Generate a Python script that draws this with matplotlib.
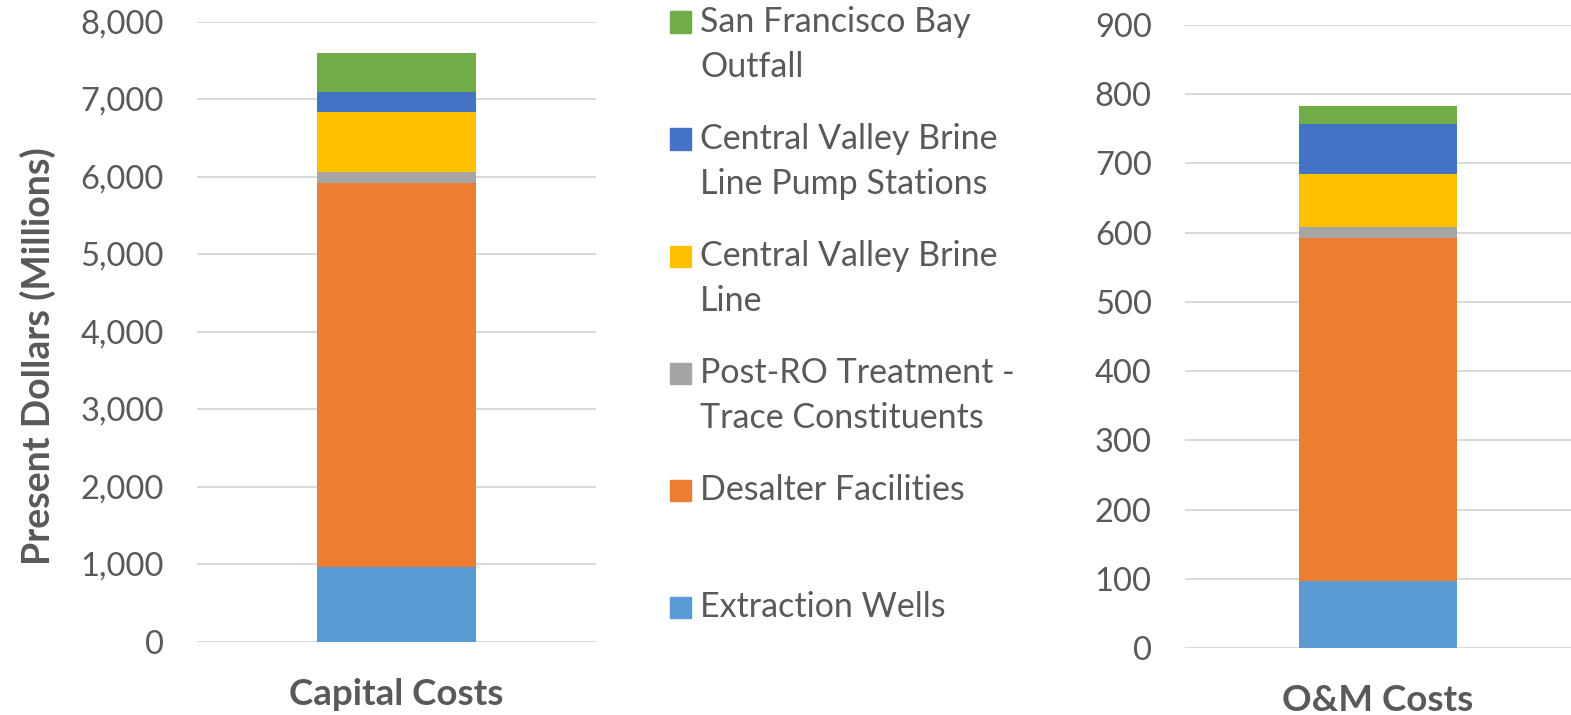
import matplotlib
matplotlib.use("Agg")
import matplotlib.pyplot as plt
from matplotlib.patches import Rectangle

# stacked components, bottom to top
components = [
    "Extraction Wells",
    "Desalter Facilities",
    "Post-RO Treatment -\nTrace Constituents",
    "Central Valley Brine\nLine",
    "Central Valley Brine\nLine Pump Stations",
    "San Francisco Bay\nOutfall",
]
colors = ["#5B9BD5", "#ED7D31", "#A5A5A5", "#FFC000", "#4472C4", "#70AD47"]

capital_costs = [960, 4955, 142, 774, 258, 504]
om_costs = [97, 496, 15, 77, 72, 26]

capital_ticks = [0, 1000, 2000, 3000, 4000, 5000, 6000, 7000, 8000]
om_ticks = [0, 100, 200, 300, 400, 500, 600, 700, 800, 900]

TEXT = "#595959"
GRID = "#D9D9D9"
FONT = "Lato"

plt.rcParams["font.family"] = [FONT, "DejaVu Sans"]

W, H = 1571, 715
fig = plt.figure(figsize=(W / 100, H / 100), dpi=100)


def stacked(ax, values, ticks, label, width):
    bottom = 0
    for v, c in zip(values, colors):
        ax.bar(0, v, width=width, bottom=bottom, color=c, zorder=3)
        bottom += v
    ax.set_xlim(-0.5, 0.5)
    ax.set_ylim(ticks[0], ticks[-1])
    ax.set_yticks(ticks)
    ax.set_yticklabels([f"{t:,}" for t in ticks])
    ax.set_xticks([0])
    ax.set_xticklabels([label], fontweight="bold")
    ax.grid(axis="y", color=GRID, linewidth=1.4, zorder=0)
    ax.tick_params(axis="y", length=0, pad=24, labelsize=23.5, labelcolor=TEXT)
    ax.tick_params(axis="x", length=0, pad=26, labelsize=26.5, labelcolor=TEXT)
    for s in ax.spines.values():
        s.set_visible(False)


ax1 = fig.add_axes([197 / W, 1 - 641.5 / H, 399 / W, 620 / H])
stacked(ax1, capital_costs, capital_ticks, "Capital Costs", 0.4)

ax2 = fig.add_axes([1185 / W, 1 - 648 / H, 386 / W, 623 / H])
stacked(ax2, om_costs, om_ticks, "O&M Costs", 0.407)

fig.text(38 / W, 1 - 356 / H, "Present Dollars (Millions)", rotation=90,
         ha="center", va="center", fontsize=27, fontweight="bold", color=TEXT)

# legend, top entry first
y0, step, line_gap = 22, 117, 45
for i, (lab, c) in enumerate(zip(components[::-1], colors[::-1])):
    yc = y0 + i * step
    fig.add_artist(Rectangle((670 / W, 1 - (yc + 10.5) / H), 21 / W, 21 / H,
                             transform=fig.transFigure, color=c))
    for k, line in enumerate(lab.split("\n")):
        fig.text(700 / W, 1 - (yc + k * line_gap) / H, line, ha="left",
                 va="center", fontsize=24.5, color=TEXT)

fig.savefig("out.png", dpi=100)
